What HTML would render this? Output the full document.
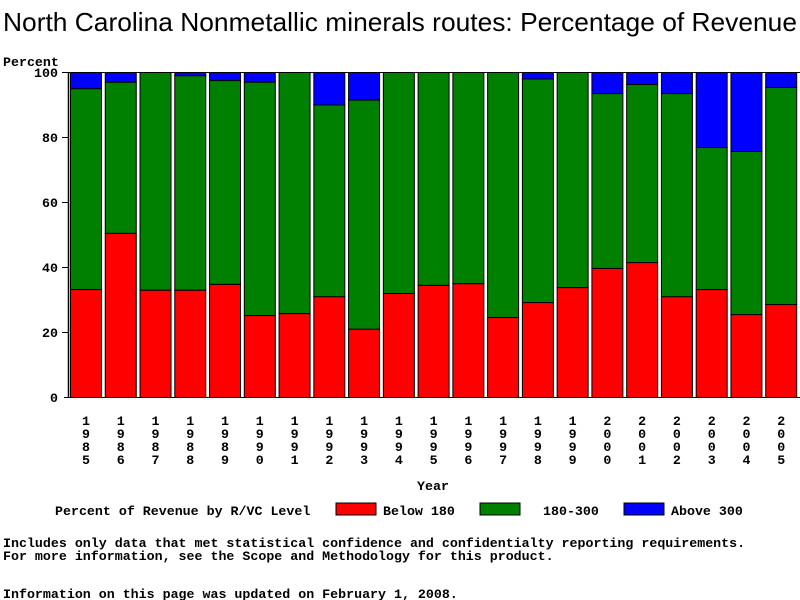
<!DOCTYPE html>
<html><head><meta charset="utf-8"><style>
body{margin:0;background:#fff;width:800px;height:600px;overflow:hidden}
svg{display:block}
.m{font-family:"Liberation Mono",monospace;font-size:13.3px;font-weight:bold;fill:#000}
</style></head><body>
<svg width="800" height="600" xmlns="http://www.w3.org/2000/svg">
<text x="3" y="31" font-family="Liberation Sans, sans-serif" font-size="26" textLength="794" lengthAdjust="spacingAndGlyphs" fill="#000">North Carolina Nonmetallic minerals routes: Percentage of Revenue</text>
<text class="m" x="3" y="66">Percent</text>
<g id="bars"></g>
<line x1="68.5" y1="72" x2="68.5" y2="398" stroke="#000" stroke-width="1.5"/>
<line x1="68" y1="72.5" x2="800" y2="72.5" stroke="#000"/>
<line x1="64" y1="397.5" x2="800" y2="397.5" stroke="#000"/>
<g class="m" text-anchor="end">
<text x="58" y="77">100</text><text x="58" y="142">80</text><text x="58" y="207">60</text><text x="58" y="272">40</text><text x="58" y="337">20</text><text x="58" y="402">0</text>
</g>
<g stroke="#000"><line x1="62" y1="72.5" x2="68" y2="72.5"/><line x1="62" y1="137.5" x2="68" y2="137.5"/><line x1="62" y1="202.5" x2="68" y2="202.5"/><line x1="62" y1="267.5" x2="68" y2="267.5"/><line x1="62" y1="332.5" x2="68" y2="332.5"/></g>
<g id="yrs" class="m" text-anchor="middle"></g>
<text class="m" x="433" y="490" text-anchor="middle">Year</text>
<text class="m" x="55" y="515">Percent of Revenue by R/VC Level</text>
<rect x="336" y="503" width="40" height="12" fill="#f00" stroke="#000"/><text class="m" x="383" y="515">Below 180</text>
<rect x="480" y="503" width="40" height="12" fill="#008000" stroke="#000"/><text class="m" x="543" y="515">180-300</text>
<rect x="624" y="503" width="40" height="12" fill="#00f" stroke="#000"/><text class="m" x="671" y="515">Above 300</text>
<text class="m" x="3" y="547">Includes only data that met statistical confidence and confidentialty reporting requirements.</text>
<text class="m" x="3" y="560">For more information, see the Scope and Methodology for this product.</text>
<text class="m" x="3" y="598">Information on this page was updated on February 1, 2008.</text>
</svg>
<script>
var d=[[33.2,95],[50.5,97],[33,100],[33,99],[34.8,97.5],[25.2,97],[25.8,100],[31,90],[21,91.5],[32,100],[34.5,100],[35,100],[24.6,100],[29.2,98],[33.8,100],[39.7,93.5],[41.5,96.3],[31,93.5],[33.2,76.9],[25.5,75.7],[28.6,95.4]];
var ns="http://www.w3.org/2000/svg",g=document.getElementById('bars'),yg=document.getElementById('yrs');
function y(v){return 397-v*3.25}
function r(x,y1,y2,c){var e=document.createElementNS(ns,'rect');e.setAttribute('x',x+.5);e.setAttribute('y',y1+.5);e.setAttribute('width',31);e.setAttribute('height',Math.max(0,y2-y1));e.setAttribute('fill',c);e.setAttribute('stroke','#000');g.appendChild(e)}
d.forEach(function(v,i){var x=70+i*34.76;
r(x,72,y(v[1]),'#00f');r(x,y(v[1]),y(v[0]),'#008000');r(x,y(v[0]),397,'#f00');
var s=String(1985+i);for(var k=0;k<4;k++){var t=document.createElementNS(ns,'text');t.setAttribute('x',x+16);t.setAttribute('y',425+k*13);t.textContent=s[k];yg.appendChild(t)}});
</script>
</body></html>
